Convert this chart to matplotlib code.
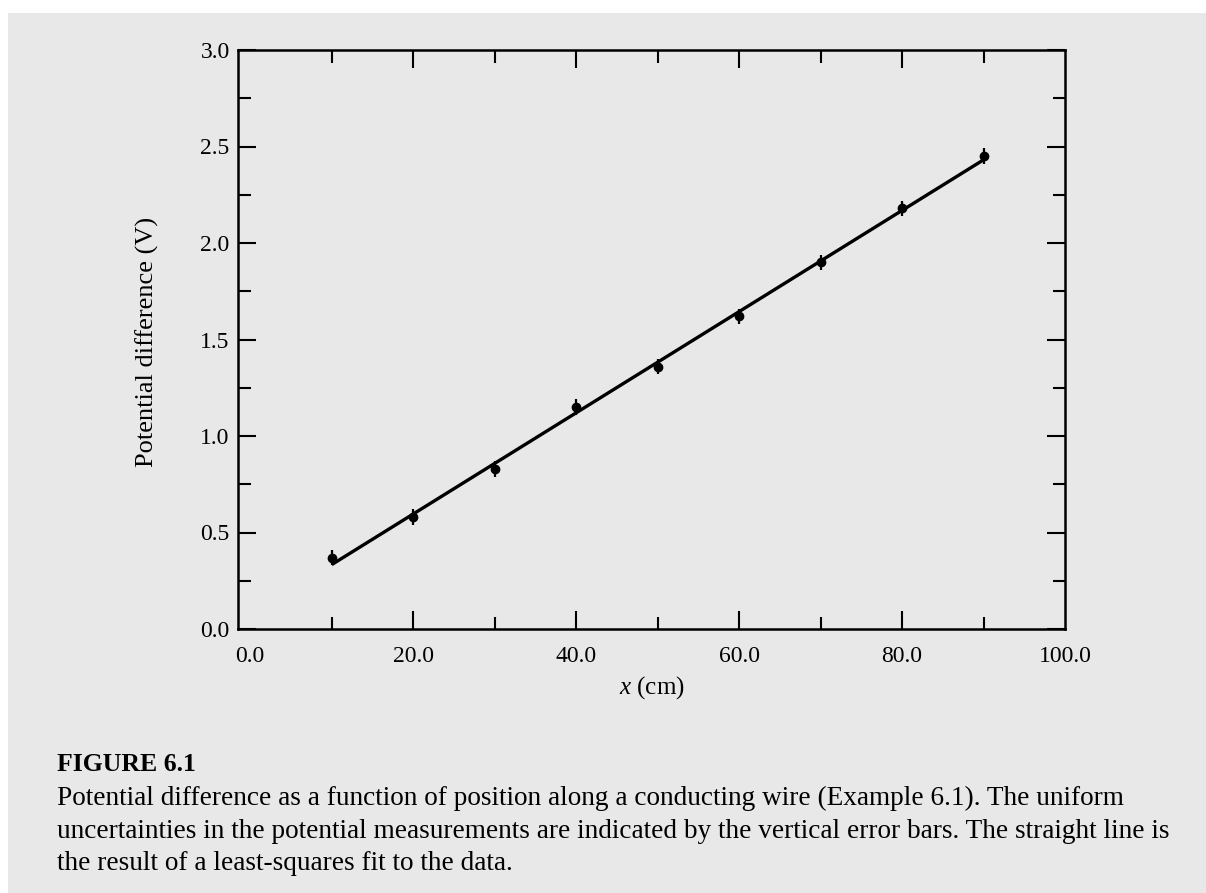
import numpy as np
import matplotlib
matplotlib.use("Agg")
import matplotlib.pyplot as plt
from matplotlib.patches import Rectangle
from matplotlib.ticker import MultipleLocator, FixedLocator

# ---- data ----
position_cm = [10.0, 20.0, 30.0, 40.0, 50.0, 60.0, 70.0, 80.0, 90.0]
potential_V = [0.37, 0.58, 0.83, 1.15, 1.36, 1.62, 1.90, 2.18, 2.45]
sigma_V = [0.04, 0.04, 0.04, 0.04, 0.04, 0.04, 0.04, 0.04, 0.04]

x_ticks = [0.0, 20.0, 40.0, 60.0, 80.0, 100.0]
x_tick_labels = ["0.0", "20.0", "40.0", "60.0", "80.0", "100.0"]
x_minor_ticks = [10.0, 30.0, 50.0, 70.0, 90.0]
y_ticks = [0.0, 0.5, 1.0, 1.5, 2.0, 2.5, 3.0]
y_tick_labels = ["0.0", "0.5", "1.0", "1.5", "2.0", "2.5", "3.0"]

caption_title = "FIGURE 6.1"
caption_lines = [
    "Potential difference as a function of position along a conducting wire (Example 6.1). The uniform",
    "uncertainties in the potential measurements are indicated by the vertical error bars. The straight line is",
    "the result of a least-squares fit to the data.",
]

# least-squares straight-line fit
slope, intercept = np.polyfit(position_cm, potential_V, 1)
fit_x = np.array([position_cm[0], position_cm[-1]])
fit_y = intercept + slope * fit_x

plt.rcParams["font.family"] = ["Liberation Serif", "DejaVu Serif"]
plt.rcParams["mathtext.fontset"] = "custom"
plt.rcParams["mathtext.it"] = "Liberation Serif:italic"
plt.rcParams["mathtext.rm"] = "Liberation Serif"

W, H = 1206, 893
fig = plt.figure(figsize=(W / 100, H / 100), dpi=100, facecolor="white")
bg = "#e8e8e8"
fig.patches.append(Rectangle((8 / W, 0), 1 - 8 / W, 1 - 13 / H, transform=fig.transFigure,
                             facecolor=bg, edgecolor="none", zorder=-10))

left, right, top, bottom = 238, 1065, 50, 629
ax = fig.add_axes([left / W, 1 - bottom / H, (right - left) / W, (bottom - top) / H])
ax.set_facecolor(bg)

ax.plot(fit_x, fit_y, color="black", lw=2.4, solid_capstyle="butt", zorder=2)
ax.errorbar(position_cm, potential_V, yerr=sigma_V, fmt="o", color="black",
            ms=6, elinewidth=1.6, capsize=0, zorder=3)

ax.set_xlim(-1.5, 100)
ax.set_ylim(0, 3.0)
ax.xaxis.set_major_locator(FixedLocator(x_ticks))
ax.set_xticklabels(x_tick_labels)
ax.xaxis.set_minor_locator(FixedLocator(x_minor_ticks))
ax.yaxis.set_major_locator(FixedLocator(y_ticks))
ax.set_yticklabels(y_tick_labels)
ax.yaxis.set_minor_locator(MultipleLocator(0.25))

for s in ax.spines.values():
    s.set_linewidth(1.8)
ax.tick_params(which="both", direction="in", top=True, right=True, width=1.5, color="black")
ax.tick_params(which="major", length=13)
ax.tick_params(which="minor", length=9)
ax.tick_params(axis="x", which="major", labelsize=17, pad=12)
ax.tick_params(axis="y", which="major", labelsize=17, pad=6)

# no tick marks at the box edges (0 and 100), only their labels
xt = ax.xaxis.get_major_ticks()
for t in (xt[0], xt[-1]):
    t.tick1line.set_visible(False)
    t.tick2line.set_visible(False)

ax.set_xlabel(r"$\it{x}$ (cm)", fontsize=18)
ax.xaxis.set_label_coords(0.5, -0.078)
ax.set_ylabel("Potential difference (V)", fontsize=19)
ax.yaxis.set_label_coords(-0.096, 0.495)

fig.text(57 / W, 1 - 771 / H, caption_title, fontsize=18.5, fontweight="bold", va="baseline", ha="left")
for i, line in enumerate(caption_lines):
    fig.text(57 / W, 1 - (805 + 32.5 * i) / H, line, fontsize=19.6, va="baseline", ha="left")

fig.savefig("out.png", dpi=100, facecolor=fig.get_facecolor())
